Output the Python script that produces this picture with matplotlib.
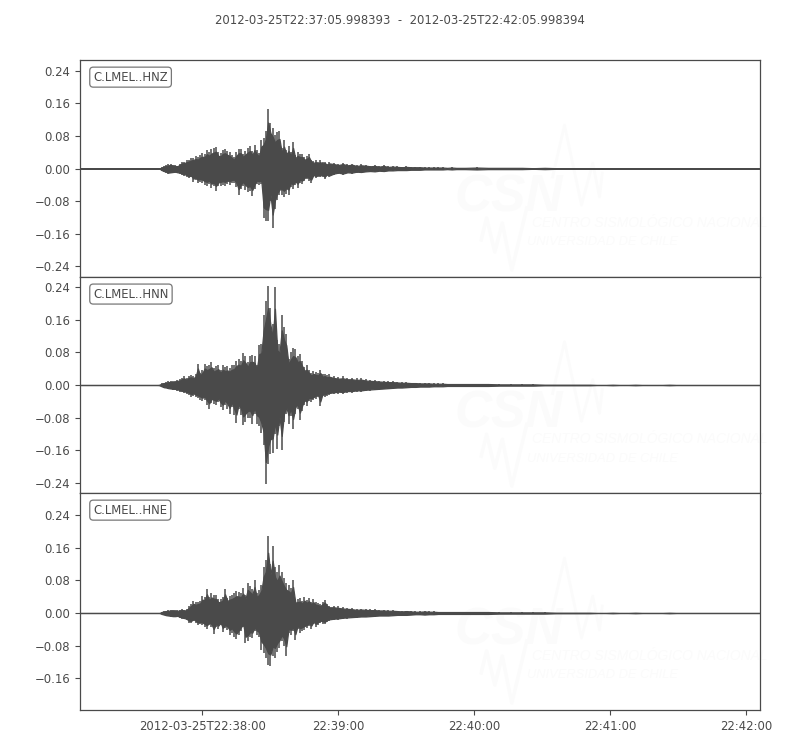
import numpy as np
import matplotlib
matplotlib.use("Agg")
import matplotlib.pyplot as plt

INK = "#4a4a4a"
TITLE = "2012-03-25T22:37:05.998393  -  2012-03-25T22:42:05.998394"
CHANNELS = ["C.LMEL..HNZ", "C.LMEL..HNN", "C.LMEL..HNE"]
X_TICK_SECONDS = [54, 114, 174, 234, 294]
X_TICK_LABELS = ["2012-03-25T22:38:00", "22:39:00", "22:40:00", "22:41:00", "22:42:00"]
Y_TICKS = [-0.24, -0.16, -0.08, 0.0, 0.08, 0.16, 0.24]

# seconds after 22:37:05.998
seconds = [0, 34] + list(range(35, 111)) + list(range(112, 171, 2)) + list(range(175, 301, 5))

# peak amplitudes in thousandths of the trace unit
z_up = [0, 0,
    0, 3, 6, 8, 10, 11, 9, 8, 7, 12, 16, 17, 20, 22, 25, 27, 30, 28, 34, 37, 36, 45, 40, 47, 50, 53,
    40, 38, 46, 48, 43, 40, 33, 28, 40, 48, 48, 36, 44, 50, 55, 42, 58, 45, 38, 69, 75, 92, 145, 112,
    100, 82, 90, 93, 50, 69, 45, 55, 40, 65, 32, 40, 36, 36, 28, 30, 36, 22, 18, 20, 16, 20, 16, 17, 12, 16,
    14, 11, 14, 10, 12, 8, 10, 9, 7, 8, 6, 8, 5, 6, 5, 4, 5, 4, 4, 4, 3, 3, 3, 3, 3, 2, 3, 2, 2, 2,
    3, 2, 2, 2, 2, 1, 2, 1, 1, 1, 1, 0, 1, 0, 1, 0, 0, 1, 0, 0, 0, 0, 0, 0, 0, 0]
z_lo = [0, 0,
    0, -5, -8, -10, -13, -12, -11, -10, -12, -13, -16, -18, -20, -24, -22, -32, -28, -35, -33, -35, -40, -42, -38, -48, -44, -55,
    -44, -42, -40, -42, -38, -40, -36, -35, -45, -65, -50, -42, -52, -58, -55, -68, -50, -38, -40, -38, -122, -128, -130, -80,
    -145, -100, -78, -66, -65, -70, -62, -66, -45, -50, -40, -48, -35, -38, -30, -25, -30, -35, -20, -24, -20, -22, -20, -26, -18, -22,
    -16, -13, -16, -12, -13, -10, -11, -9, -8, -9, -7, -8, -6, -6, -5, -5, -5, -4, -4, -4, -3, -3, -3, -3, -3, -2, -3, -2, -2, -2,
    -3, -2, -2, -2, -2, -1, -2, -1, -1, -1, -1, 0, -1, 0, -1, 0, 0, -1, 0, 0, 0, 0, 0, 0, 0, 0]

n_up = [0, 0,
    1, 4, 6, 7, 9, 10, 9, 11, 13, 14, 18, 21, 16, 23, 24, 22, 26, 52, 30, 38, 52, 47, 50, 56, 42, 46,
    50, 38, 48, 44, 46, 42, 48, 50, 60, 64, 60, 78, 70, 56, 72, 73, 70, 50, 97, 100, 171, 205, 242, 190,
    150, 240, 110, 100, 172, 142, 125, 65, 80, 91, 88, 72, 75, 60, 45, 48, 38, 30, 35, 32, 30, 38, 26, 28, 24, 26,
    22, 20, 21, 18, 18, 16, 17, 14, 13, 12, 11, 10, 9, 9, 8, 7, 7, 6, 6, 5, 5, 5, 4, 4, 4, 3, 3, 3, 3, 3,
    3, 3, 2, 2, 2, 2, 1, 1, 1, 1, 1, 0, 1, 0, 1, 0, 0, 1, 0, 0, 0, 0, 0, 0, 0, 0]
n_lo = [0, 0,
    -1, -4, -7, -8, -10, -11, -12, -12, -14, -16, -18, -20, -22, -24, -29, -26, -30, -33, -36, -40, -36, -48, -58, -44, -46, -50,
    -42, -54, -62, -48, -58, -72, -54, -74, -93, -60, -74, -99, -90, -82, -80, -95, -72, -95, -100, -119, -148, -242, -193, -170,
    -168, -120, -156, -100, -160, -90, -70, -95, -75, -107, -70, -60, -87, -65, -48, -52, -40, -42, -38, -34, -30, -52, -28, -30, -26, -25,
    -23, -21, -22, -19, -19, -17, -17, -15, -14, -13, -12, -11, -10, -9, -8, -8, -7, -6, -6, -5, -5, -5, -4, -4, -4, -3, -3, -3, -3, -3,
    -3, -3, -2, -2, -2, -2, -1, -1, -1, -1, -1, 0, -1, 0, -1, 0, 0, -1, 0, 0, 0, 0, 0, 0, 0, 0]

e_up = [0, 0,
    0, 3, 5, 6, 7, 8, 8, 7, 7, 8, 9, 8, 9, 16, 22, 29, 26, 28, 30, 42, 40, 59, 40, 49, 45, 44,
    34, 35, 40, 59, 38, 42, 44, 48, 53, 52, 50, 61, 45, 73, 66, 58, 82, 50, 57, 70, 114, 130, 190, 120,
    165, 114, 100, 118, 100, 85, 73, 69, 62, 82, 33, 34, 36, 30, 39, 32, 37, 28, 34, 26, 25, 22, 28, 33, 22, 18,
    18, 16, 14, 13, 12, 10, 11, 10, 9, 9, 8, 8, 7, 7, 6, 5, 6, 5, 4, 4, 5, 4, 4, 3, 3, 3, 3, 3, 3, 3,
    3, 3, 2, 2, 2, 2, 2, 1, 1, 1, 1, 0, 1, 0, 1, 0, 0, 1, 0, 0, 0, 0, 0, 0, 0, 0]
e_lo = [0, 0,
    0, -3, -5, -7, -8, -9, -10, -10, -9, -12, -14, -16, -18, -24, -25, -20, -24, -30, -28, -30, -34, -39, -30, -35, -51, -34,
    -40, -30, -47, -38, -42, -53, -48, -58, -65, -55, -45, -35, -75, -70, -60, -62, -45, -55, -60, -90, -98, -110, -127, -131,
    -105, -110, -95, -86, -70, -80, -105, -50, -53, -45, -67, -40, -48, -45, -41, -38, -32, -40, -28, -34, -29, -24, -26, -28, -22, -20,
    -18, -17, -15, -14, -13, -12, -11, -11, -10, -9, -8, -8, -8, -7, -6, -6, -6, -5, -4, -4, -5, -4, -4, -3, -3, -3, -3, -3, -3, -3,
    -3, -3, -2, -2, -2, -2, -2, -1, -1, -1, -1, 0, -1, 0, -1, 0, 0, -1, 0, 0, 0, 0, 0, 0, 0, 0]

uppers = [z_up, n_up, e_up]
lowers = [z_lo, n_lo, e_lo]
y_limits = [(-0.2665, 0.2665), (-0.265, 0.265), (-0.2385, 0.295)]
BODY_SHARE = 0.78

fig = plt.figure(figsize=(8, 7.5), dpi=100)
fig.text(0.5, 1 - 21 / 750, TITLE, ha="center", va="center", fontsize=8.4, color=INK)

L, R = 80 / 800, 760 / 800
edges = [(60, 277), (277, 493), (493, 710)]
WM = "#fbfbfb"

def watermark(ax):
    # faint logo, placed in axes fractions
    t = ax.transAxes
    ax.text(0.55, 0.365, "CSN", transform=t, fontsize=37, fontweight="bold", style="italic",
            color=WM, ha="left", va="center", zorder=0, family="Liberation Sans")
    ax.plot([0.695, 0.7125, 0.7375, 0.754, 0.764, 0.768],
            [0.461, 0.70, 0.332, 0.525, 0.369, 0.479], color=WM, lw=2, transform=t, zorder=0)
    ax.plot([0.590, 0.598, 0.610, 0.621, 0.635, 0.657],
            [0.171, 0.272, 0.115, 0.249, 0.032, 0.318], color=WM, lw=2.5, transform=t, zorder=0)
    ax.text(0.664, 0.249, "CENTRO SISMOLÓGICO NACIONAL", transform=t, fontsize=10, style="italic",
            color=WM, ha="left", va="center", zorder=0, family="Liberation Sans")
    ax.text(0.658, 0.159, "UNIVERSIDAD DE CHILE", transform=t, fontsize=9.3, style="italic",
            color=WM, ha="left", va="center", zorder=0, family="Liberation Sans")

axes = []
for i, (top, bottom) in enumerate(edges):
    ax = fig.add_axes([L, 1 - bottom / 750, R - L, (bottom - top) / 750])
    axes.append(ax)
    watermark(ax)
    up = np.array(uppers[i]) / 1000
    lo = np.array(lowers[i]) / 1000
    ax.fill_between(seconds, lo * BODY_SHARE, up * BODY_SHARE,
                    facecolor=INK, edgecolor=INK, linewidth=0.9, zorder=2)
    ax.vlines(seconds, lo, up, color=INK, linewidth=1.1, zorder=2)
    ax.set_xlim(0, 300)
    ax.set_ylim(*y_limits[i])
    ticks = Y_TICKS if i != 2 else Y_TICKS[1:]
    ax.set_yticks(ticks)
    ax.set_yticklabels([f"{v:.2f}".replace("-", "\u2212") for v in ticks])
    ax.set_xticks(X_TICK_SECONDS)
    ax.set_xticklabels(X_TICK_LABELS if i == 2 else [""] * 5)
    ax.tick_params(axis="y", labelsize=8.4, colors=INK, length=3.5, width=0.8)
    ax.tick_params(axis="x", labelsize=8.4, colors=INK, length=3.5 if i == 2 else 0, width=0.8)
    for s in ax.spines.values():
        s.set_color(INK)
        s.set_linewidth(0.9)
    ax.text(0.0195, 0.921, CHANNELS[i], transform=ax.transAxes, fontsize=8.4, color=INK,
            ha="left", va="center", zorder=5,
            bbox=dict(boxstyle="round,pad=0.3", facecolor="white", edgecolor="#777777", linewidth=0.9))

fig.savefig("out.png", dpi=100)
